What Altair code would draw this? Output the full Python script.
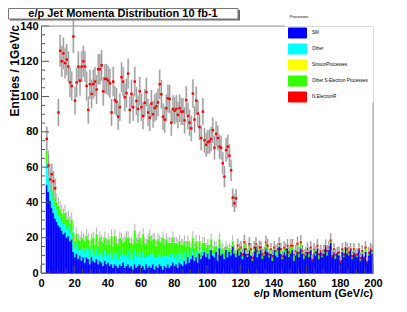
import altair as alt
import pandas as pd
import numpy as np

# ---------------- data (1 GeV/c bins, bin i = [i, i+1)) ----------------
process_names = ["SM", "Other", "SmuonProcesses", "Other S-Electron Processes", "N.ElectronR"]
process_colors = ["#0000ff", "#00ffff", "#ffff00", "#33ff00", "#ff0000"]

sm = [0, 0, 0, 50, 46, 41, 37, 34, 31, 29,
      27, 26, 24, 22, 23, 20, 21, 18, 19, 12,
      9, 11, 8, 10, 7, 9, 6, 9, 8, 5,
      9, 7, 6, 8, 5, 7, 6, 4, 7, 5,
      6, 4, 5, 3, 5, 4, 3, 5, 4, 6,
      3, 4, 5, 3, 4, 2, 5, 3, 4, 5,
      3, 4, 2, 5, 3, 4, 3, 5, 2, 4,
      3, 5, 4, 2, 4, 3, 5, 3, 4, 6,
      4, 5, 3, 6, 5, 4, 7, 5, 9, 6,
      8, 10, 7, 9, 6, 11, 8, 10, 12, 9,
      11, 8, 13, 10, 9, 12, 7, 14, 10, 11,
      8, 13, 9, 12, 10, 15, 11, 9, 13, 10,
      12, 8, 14, 11, 9, 13, 10, 7, 12, 15,
      9, 11, 13, 8, 10, 14, 12, 9, 11, 7,
      13, 10, 9, 15, 11, 8, 12, 10, 14, 9,
      11, 13, 7, 10, 12, 9, 14, 11, 8, 10,
      12, 9, 13, 7, 11, 10, 14, 8, 12, 9,
      11, 15, 10, 13, 17, 9, 12, 8, 11, 10,
      6, 12, 9, 14, 11, 10, 13, 8, 12, 10,
      9, 13, 7, 11, 8, 12, 6, 10, 13, 11]

other = [0, 0, 0, 12, 10, 9, 8, 8, 7, 7,
         6, 6, 5, 6, 5, 5, 6, 5, 5, 6,
         5, 6, 5, 4, 6, 5, 6, 5, 6, 4,
         5, 6, 4, 6, 5, 4, 6, 5, 6, 5,
         5, 6, 7, 5, 6, 7, 5, 8, 6, 5,
         7, 6, 8, 5, 7, 6, 8, 7, 6, 7,
         6, 8, 7, 5, 7, 6, 8, 6, 7, 5,
         7, 6, 5, 8, 6, 7, 5, 6, 7, 5,
         5, 6, 4, 5, 6, 4, 5, 3, 4, 3,
         2, 3, 2, 3, 2, 2, 1, 2, 1, 2,
         1, 2, 1, 1, 2, 0, 1, 1, 0, 1,
         1, 0, 1, 0, 1, 0, 0, 1, 0, 0,
         0, 1, 0, 0, 0, 1, 0, 0, 0, 0,
         1, 0, 0, 0, 0, 0, 1, 0, 0, 0,
         0, 0, 1, 0, 0, 0, 0, 0, 0, 0,
         0, 0, 0, 1, 0, 0, 0, 0, 0, 0,
         0, 0, 0, 0, 0, 0, 0, 0, 0, 0,
         0, 0, 0, 0, 0, 0, 0, 0, 0, 0,
         0, 0, 0, 0, 0, 0, 0, 0, 0, 0,
         0, 0, 0, 0, 0, 0, 0, 0, 0, 0]

other_selectron = [0, 0, 0, 8, 7, 6, 6, 5, 5, 4,
                   5, 4, 5, 4, 6, 5, 4, 5, 6, 5,
                   4, 5, 6, 4, 7, 5, 6, 7, 5, 6,
                   5, 7, 6, 8, 5, 9, 6, 8, 7, 6,
                   8, 6, 9, 7, 10, 6, 8, 7, 9, 6,
                   8, 10, 7, 9, 6, 8, 11, 7, 9, 8,
                   7, 10, 8, 6, 9, 11, 7, 8, 10, 6,
                   9, 7, 8, 10, 6, 9, 7, 8, 6, 9,
                   8, 6, 9, 7, 5, 8, 6, 7, 5, 6,
                   4, 7, 5, 6, 4, 5, 3, 5, 4, 3,
                   4, 3, 5, 2, 4, 3, 2, 4, 3, 2,
                   3, 2, 3, 2, 2, 3, 2, 1, 2, 3,
                   2, 1, 3, 2, 1, 2, 3, 1, 2, 1,
                   2, 3, 1, 2, 1, 3, 2, 1, 2, 2,
                   1, 2, 3, 1, 2, 1, 2, 3, 1, 2,
                   4, 2, 3, 1, 4, 2, 3, 1, 2, 1,
                   1, 2, 1, 0, 2, 1, 1, 2, 0, 1,
                   1, 0, 2, 1, 1, 0, 1, 2, 0, 1,
                   0, 1, 1, 0, 2, 1, 0, 1, 1, 0,
                   1, 0, 1, 1, 0, 2, 0, 1, 0, 1]

# N.ElectronR contribution on top of the stack, bins 118..199
red_tail_start = 118
red_tail = [1.2, 0.8, 1.0, 1.0, 1.2, 1.0, 0.8, 1.0, 1.0, 1.2,
            1.0, 1.0, 0.8, 1.2, 1.0, 1.0, 1.0, 0.8, 1.2, 1.0,
            1.0, 1.2, 1.0, 0.8, 1.0, 1.0, 1.2, 1.0, 1.0, 0.8,
            1.0, 1.2, 1.0, 1.0, 0.8, 1.0, 1.2, 1.0, 1.0, 1.0,
            0.8, 1.0, 1.2, 1.0, 1.0, 1.0, 0.8, 1.2, 1.0, 1.0,
            1.0, 1.0, 1.2, 0.8, 1.0, 1.0, 1.0, 1.2, 1.0, 0.8,
            1.0, 1.2, 1.0, 1.0, 1.0, 0.8, 1.0, 1.2, 1.0, 1.0,
            1.0, 0.8, 1.2, 1.0, 1.0, 1.0, 1.2, 1.0, 0.8, 1.0,
            1.0, 1.2]

# N.ElectronR points (with error bars)
sig_bins = [3, 4, 5, 6, 7, 8] + list(range(10, 118))
sig_vals = [76, 61, 53, 56, 52, 48,
            91, 126, 120, 124.5, 119, 121, 117, 108, 106, 134,
            97.7, 108, 117, 109, 117, 120, 117, 106, 92.4, 107,
            101.5, 107, 108.5, 104, 115.5, 115.5, 117.7, 103, 110, 110,
            109, 107.5, 91, 108.5, 98, 97, 88.6, 94, 111, 108.5,
            99.6, 102, 113, 92.4, 101.5, 94, 108.5, 97.5, 93, 103,
            94, 89, 96.5, 102.6, 91, 88, 96, 90, 93.5, 94.5,
            96.7, 107, 101.3, 88.6, 87, 93.4, 99, 98.6, 85.2, 93,
            92, 93, 89.6, 93.4, 91.5, 91.5, 86.5, 98, 89, 85.2,
            82, 101.7, 87, 97.7, 90.4, 82.7, 76.5, 91.5, 75.2, 72.7,
            74.2, 74.6, 75.9, 81, 71, 78.8, 76.5, 71.6, 71, 62.2,
            54.6, 69.7, 71.6, 66.5, 58.2, 42.7, 39.5, 42.3]

x_tick_labels = [0, 20, 40, 60, 80, 100, 120, 140, 160, 180, 200]
y_tick_labels = [0, 20, 40, 60, 80, 100, 120, 140]

title_text = "e/p Jet Momenta Distribution 10 fb-1"
x_title = "e/p Momentum (GeV/c)"
y_title = "Entries / 1GeV/c"

# ---------------- build tables ----------------
nb = len(sm)
assert len(other) == nb and len(other_selectron) == nb
red_full = {red_tail_start + i: v for i, v in enumerate(red_tail)}

rows, tot_rows = [], []
for i in range(nb):
    lo = 0.0
    for name, val in (("SM", sm[i]), ("Other", other[i]),
                      ("Other S-Electron Processes", other_selectron[i]),
                      ("N.ElectronR", red_full.get(i, 0))):
        if val > 0:
            rows.append(dict(x0=i, x1=i + 1, lo=lo, hi=lo + val, proc=name))
            lo += val
    if lo > 0:
        e = 0.8 * np.sqrt(lo)
        tot_rows.append(dict(xc=i + 0.5, v=lo, top=lo + 0.4, hi=lo + e,
                             tail=i >= red_tail_start))
stack_df = pd.DataFrame(rows)
tot_df = pd.DataFrame(tot_rows)
tot_hi_df = tot_df[tot_df["tail"]]
tot_lo_df = tot_df[~tot_df["tail"]]

assert len(sig_bins) == len(sig_vals)
sig_df = pd.DataFrame({"xc": [b + 0.5 for b in sig_bins], "v": sig_vals})
sig_df["lo"] = sig_df["v"] - 0.8 * np.sqrt(sig_df["v"])
sig_df["hi"] = sig_df["v"] + 0.8 * np.sqrt(sig_df["v"])

W, H = 332, 247
FONT = "Liberation Sans"
xs = alt.Scale(domain=[0, 200], nice=False, zero=False)
ys = alt.Scale(domain=[0, 140], nice=False, zero=False)
cscale = alt.Scale(domain=process_names, range=process_colors)

xaxis = alt.Axis(values=x_tick_labels, ticks=False, grid=False, title=None,
                 labelFont=FONT, labelFontWeight="bold", labelFontSize=11,
                 labelColor="#000", labelPadding=4, labelFlush=False,
                 labelOverlap=False, domainColor="#666", zindex=1)
yaxis = alt.Axis(values=y_tick_labels, ticks=False, grid=False, title=None,
                 labelFont=FONT, labelFontWeight="bold", labelFontSize=11,
                 labelColor="#000", labelPadding=3, labelFlush=False,
                 labelOverlap=False, domainColor="#666", zindex=1)


def X(f):
    return alt.X(f, scale=xs, axis=xaxis)


def Y(f):
    return alt.Y(f, scale=ys, axis=yaxis)


rect_path = "M-1.2,-0.667L1.2,-0.667L1.2,0.667L-1.2,0.667Z"

bars = alt.Chart(stack_df).mark_rect(strokeWidth=0.4).encode(
    x=X("x0:Q"), x2="x1:Q", y=Y("lo:Q"), y2="hi:Q",
    color=alt.Color("proc:N", scale=cscale, title="Processes",
                    legend=alt.Legend(orient="none", legendX=248.5, legendY=-11.5,
                                      symbolType=rect_path, symbolSize=225,
                                      symbolStrokeColor="#aaaaaa", symbolStrokeWidth=1,
                                      rowPadding=0, labelOffset=6.5, padding=0,
                                      titleFont=FONT, titleFontSize=4, titleFontWeight="normal",
                                      titlePadding=6.5, titleColor="#000",
                                      labelFont=FONT, labelFontSize=4.5, labelColor="#000")),
    stroke=alt.Color("proc:N", scale=cscale, legend=None),
)

ERR_LIGHT, ERR_DARK = "#d6d6d6", "#999999"

# stack errors: only the part above the stack top shows
tot_lo_err = alt.Chart(tot_lo_df).mark_rule(color="#b0b0b0", strokeWidth=1).encode(
    x=X("xc:Q"), y=Y("top:Q"), y2="hi:Q")
tot_under = alt.Chart(tot_hi_df).mark_rule(color=ERR_LIGHT, strokeWidth=2).encode(
    x=X("xc:Q"), y=Y("top:Q"), y2="hi:Q")
tot_err = alt.Chart(tot_hi_df).mark_rule(color=ERR_DARK, strokeWidth=1).encode(
    x=X("xc:Q"), y=Y("top:Q"), y2="hi:Q")

sig_under = alt.Chart(sig_df).mark_rule(color=ERR_LIGHT, strokeWidth=2.2).encode(
    x=X("xc:Q"), y=Y("lo:Q"), y2="hi:Q")
sig_err = alt.Chart(sig_df).mark_rule(color=ERR_DARK, strokeWidth=1).encode(
    x=X("xc:Q"), y=Y("lo:Q"), y2="hi:Q")
sig_pts = alt.Chart(sig_df).mark_square(color="#ff0000", filled=True, size=6, opacity=1).encode(
    x=X("xc:Q"), y=Y("v:Q"))

# inside ticks (ROOT style)
ymaj = pd.DataFrame({"v": [v for v in range(0, 141, 5) if v % 20 == 0]})
ymin = pd.DataFrame({"v": [v for v in range(0, 141, 5) if v % 20 != 0]})
xmaj = pd.DataFrame({"v": [v for v in range(0, 201, 5) if v % 20 == 0]})
xmin = pd.DataFrame({"v": [v for v in range(0, 201, 5) if v % 20 != 0]})
tick_col = "#555"
ytm = alt.Chart(ymaj).mark_rule(color=tick_col, strokeWidth=1).encode(
    y=Y("v:Q"), x=alt.value(0), x2=alt.value(8))
ytn = alt.Chart(ymin).mark_rule(color=tick_col, strokeWidth=1).encode(
    y=Y("v:Q"), x=alt.value(0), x2=alt.value(4))
xtm = alt.Chart(xmaj).mark_rule(color=tick_col, strokeWidth=1).encode(
    x=X("v:Q"), y=alt.value(H), y2=alt.value(H - 8))
xtn = alt.Chart(xmin).mark_rule(color=tick_col, strokeWidth=1).encode(
    x=X("v:Q"), y=alt.value(H), y2=alt.value(H - 4))

one = pd.DataFrame({"k": [0]})
frame_top = alt.Chart(one).mark_rule(color="#999", strokeWidth=1).encode(
    x=alt.value(0), x2=alt.value(244), y=alt.value(0))
frame_right = alt.Chart(one).mark_rule(color="#999", strokeWidth=1).encode(
    x=alt.value(W), y=alt.value(77), y2=alt.value(H))

# title box with shadow
shadow = alt.Chart(one).mark_rect(fill="#6a6a6a").encode(
    x=alt.value(-31), x2=alt.value(199), y=alt.value(-16), y2=alt.value(-5.5))
tbox = alt.Chart(one).mark_rect(fill="white", stroke="#777", strokeWidth=1).encode(
    x=alt.value(-32.5), x2=alt.value(197), y=alt.value(-17.5), y2=alt.value(-7))
ttext = alt.Chart(one).mark_text(font=FONT, fontSize=11, fontWeight="bold", color="#000",
                                 align="center", baseline="middle").encode(
    x=alt.value(82), y=alt.value(-12), text=alt.value(title_text))

xt = alt.Chart(one).mark_text(font=FONT, fontSize=11, fontWeight="bold", color="#000",
                              align="right", baseline="alphabetic").encode(
    x=alt.value(W), y=alt.value(271), text=alt.value(x_title))
yt = alt.Chart(one).mark_text(font=FONT, fontSize=12, fontWeight="bold", color="#000",
                              align="right", baseline="middle", angle=270).encode(
    x=alt.value(-26), y=alt.value(-1), text=alt.value(y_title))

chart = alt.layer(
    bars, tot_lo_err, tot_under, tot_err, sig_under, sig_err, sig_pts,
    ytm, ytn, xtm, xtn, frame_top, frame_right,
    shadow, tbox, ttext, xt, yt
).properties(
    width=W, height=H,
    autosize=alt.AutoSizeParams(type="none"),
    padding={"left": 33, "top": 18, "right": 26, "bottom": 31},
).configure_view(stroke=None).configure(background="white")

chart.save("out.html", embed_options={"renderer": "svg", "actions": False})
